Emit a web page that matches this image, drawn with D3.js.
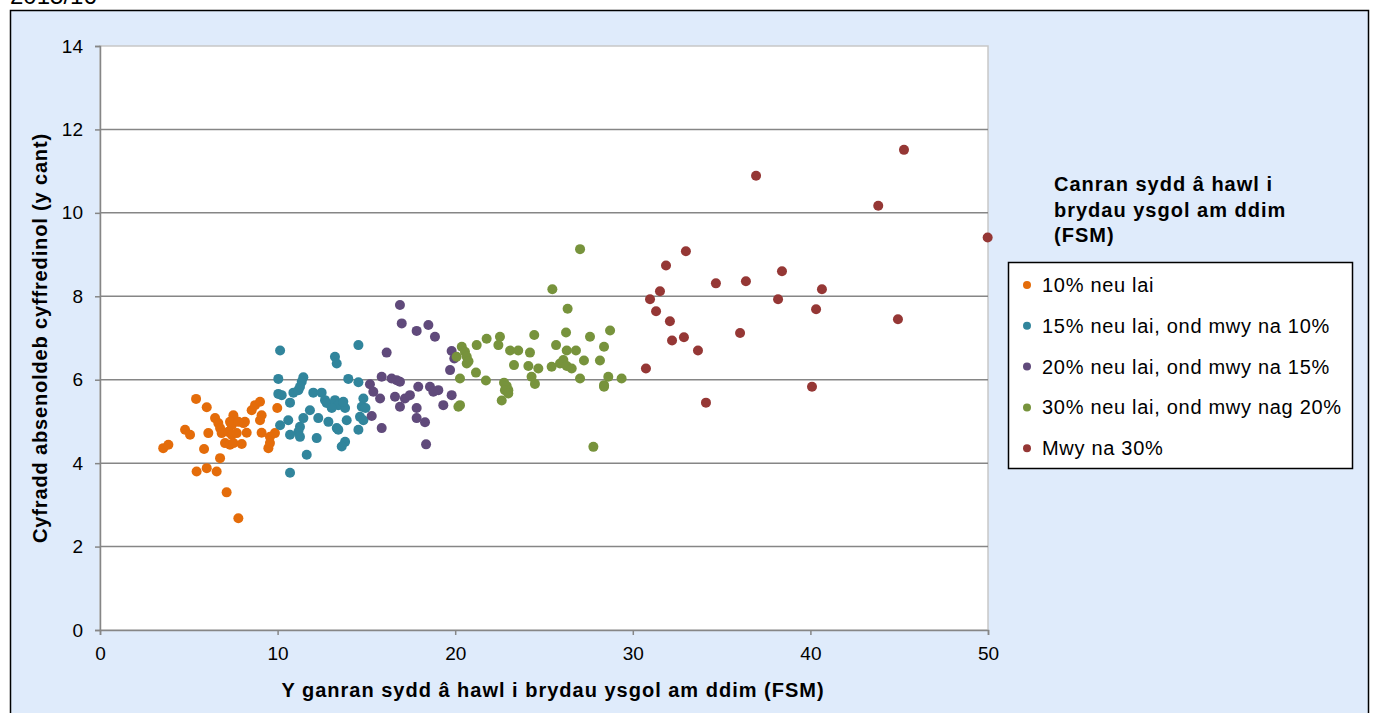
<!DOCTYPE html>
<html>
<head>
<meta charset="utf-8">
<script src="https://cdn.jsdelivr.net/npm/d3@7"></script>
<style>
  body { margin: 0; background: #fff; font-family: "Liberation Sans", Arial, sans-serif; }
  svg text { font-family: "Liberation Sans", Arial, sans-serif; }
</style>
</head>
<body>
<svg id="chart"></svg>
<script>
// legend entries, in draw order
const categories = [
  "10% neu lai",
  "15% neu lai, ond mwy na 10%",
  "20% neu lai, ond mwy na 15%",
  "30% neu lai, ond mwy nag 20%",
  "Mwy na 30%"
];

// [FSM %, absence %]
const fsm10 = [
  [3.56,4.36],[3.85,4.44],[4.79,4.80],[5.07,4.68],[5.41,5.54],[6.01,5.34],[6.10,4.72],[5.86,4.34],
  [6.48,5.08],[6.66,4.96],[6.76,4.84],[6.85,4.72],[7.51,5.15],[7.60,5.03],[7.32,4.99],[7.42,4.91],
  [8.16,4.99],[8.07,4.96],[7.22,4.75],[7.42,4.68],[7.70,4.72],[8.26,4.73],[7.04,4.48],[7.32,4.44],
  [7.51,4.48],[7.98,4.46],[6.76,4.12],[8.54,5.27],[8.73,5.39],[9.01,5.47],[9.10,5.15],[9.01,5.03],
  [9.10,4.73],[9.57,4.63],[9.85,4.72],[9.48,4.36],[9.57,4.48],[9.98,5.32],[5.44,3.80],[6.01,3.88],
  [6.57,3.80],[7.13,3.30],[7.79,2.68],[7.79,4.99]
];
const fsm15 = [
  [10.14,6.70],[14.55,6.83],[13.23,6.55],[13.33,6.39],[10.04,6.02],[11.45,6.06],[11.36,5.95],[13.98,6.02],
  [14.55,5.94],[10.04,5.66],[10.23,5.63],[10.89,5.69],[11.17,5.75],[11.26,5.83],[10.70,5.45],[12.01,5.69],
  [12.48,5.69],[12.67,5.51],[12.76,5.44],[13.23,5.51],[13.42,5.39],[13.80,5.32],[13.70,5.47],[13.05,5.32],
  [11.82,5.27],[11.45,5.08],[10.60,5.03],[10.14,4.91],[14.83,5.55],[14.74,5.35],[14.95,5.32],[12.29,5.08],
  [12.86,4.99],[13.33,4.84],[13.42,4.80],[13.89,5.03],[14.64,5.11],[14.83,5.03],[14.55,4.80],[11.26,4.87],
  [11.17,4.75],[10.70,4.68],[11.26,4.63],[12.20,4.60],[13.80,4.51],[13.61,4.40],[11.64,4.20],[10.70,3.77]
];
const fsm20 = [
  [16.89,7.79],[16.99,7.35],[17.83,7.17],[18.49,7.31],[18.86,7.03],[16.14,6.65],[19.80,6.69],[19.95,6.51],
  [19.71,6.23],[15.86,6.07],[16.42,6.03],[16.70,5.99],[16.89,5.95],[15.20,5.89],[15.39,5.71],[15.77,5.55],
  [17.92,5.83],[18.58,5.83],[18.77,5.71],[19.05,5.75],[16.61,5.59],[17.17,5.55],[17.45,5.63],[16.89,5.35],
  [17.83,5.32],[19.33,5.39],[19.80,5.63],[15.30,5.13],[17.83,5.08],[18.30,4.98],[15.86,4.84],[18.36,4.45]
];
const fsm30 = [
  [27.03,9.13],[25.47,8.17],[26.33,7.70],[28.72,7.18],[26.24,7.13],[27.59,7.03],[24.45,7.07],[22.52,7.03],
  [22.43,6.83],[21.77,6.98],[21.21,6.83],[20.37,6.79],[20.55,6.67],[20.65,6.55],[20.08,6.55],[20.65,6.39],
  [23.09,6.70],[23.55,6.70],[24.21,6.65],[25.68,6.83],[28.38,6.79],[26.28,6.70],[26.80,6.70],[23.31,6.35],
  [24.12,6.33],[24.68,6.27],[25.43,6.31],[25.90,6.39],[26.09,6.47],[26.28,6.33],[26.56,6.27],[27.25,6.46],
  [28.15,6.46],[21.17,6.17],[20.27,6.03],[21.73,5.98],[24.30,6.07],[24.49,5.90],[27.03,6.03],[28.62,6.07],
  [28.38,5.87],[28.38,5.83],[29.37,6.03],[22.75,5.93],[22.90,5.85],[22.99,5.75],[22.80,5.75],[22.99,5.67],
  [22.62,5.50],[20.27,5.39],[20.18,5.35],[27.78,4.39],[20.75,6.44]
];
const fsmOver30 = [
  [45.27,11.51],[36.94,10.89],[43.82,10.17],[49.98,9.41],[32.99,9.08],[31.87,8.74],[38.40,8.60],[34.68,8.31],
  [36.37,8.36],[40.65,8.17],[31.53,8.12],[30.97,7.93],[38.18,7.93],[31.31,7.64],[40.32,7.69],[44.93,7.45],
  [32.09,7.40],[36.04,7.12],[32.21,6.94],[32.88,7.02],[33.67,6.70],[30.74,6.27],[40.09,5.83],[34.12,5.45]
];

const xTicks = [0, 10, 20, 30, 40, 50];
const yTicks = [0, 2, 4, 6, 8, 10, 12, 14];

const seriesData = [fsm10, fsm15, fsm20, fsm30, fsmOver30];
const colors = ["#e46c0a", "#31859c", "#604a7b", "#77933c", "#953735"];

const W = 1376, H = 713;
const plot = { left: 100, right: 988, top: 46, bottom: 630 };

const svg = d3.select("#chart").attr("width", W).attr("height", H);

// outer chart panel
svg.append("rect")
  .attr("x", 10.5).attr("y", 10.5)
  .attr("width", 1358).attr("height", 720)
  .attr("fill", "#dfebfb")
  .attr("stroke", "#000").attr("stroke-width", 1.5);

// heading above the panel, cut off by the page top
svg.append("text")
  .attr("x", 10).attr("y", 4)
  .attr("font-size", 24)
  .attr("fill", "#000")
  .text("2015/16");

const x = d3.scaleLinear().domain([0, 50]).range([plot.left, plot.right]);
const y = d3.scaleLinear().domain([0, 14]).range([plot.bottom, plot.top]);

svg.append("rect")
  .attr("x", plot.left).attr("y", plot.top)
  .attr("width", plot.right - plot.left).attr("height", plot.bottom - plot.top)
  .attr("fill", "#fff")
  .attr("stroke", "#c8c8c8").attr("stroke-width", 1.5);

// gridlines
svg.append("g")
  .selectAll("line")
  .data(yTicks.filter(d => d > 0 && d < 14))
  .join("line")
  .attr("x1", plot.left).attr("x2", plot.right)
  .attr("y1", d => y(d)).attr("y2", d => y(d))
  .attr("stroke", "#868686").attr("stroke-width", 1.5);

// axes
const yAxis = svg.append("g")
  .attr("transform", `translate(${plot.left},0)`)
  .call(d3.axisLeft(y).tickValues(yTicks).tickSize(5).tickPadding(12));
const xAxis = svg.append("g")
  .attr("transform", `translate(0,${plot.bottom})`)
  .call(d3.axisBottom(x).tickValues(xTicks).tickSize(5).tickPadding(12));

[yAxis, xAxis].forEach(a => {
  a.select(".domain").attr("stroke", "#868686").attr("stroke-width", 1.5);
  a.selectAll(".tick line").attr("stroke", "#868686").attr("stroke-width", 1.5);
  a.selectAll("text").attr("font-size", 19).attr("fill", "#000")
    .attr("font-family", "'Liberation Sans', Arial, sans-serif");
});

// axis titles
svg.append("text")
  .attr("x", (plot.left + plot.right) / 2 + 9).attr("y", 697)
  .attr("text-anchor", "middle")
  .attr("font-size", 20).attr("font-weight", "bold")
  .attr("letter-spacing", 1)
  .text("Y ganran sydd â hawl i brydau ysgol am ddim (FSM)");

svg.append("text")
  .attr("transform", `translate(47,${(plot.top + plot.bottom) / 2}) rotate(-90)`)
  .attr("text-anchor", "middle")
  .attr("font-size", 20).attr("font-weight", "bold")
  .attr("letter-spacing", 0.85)
  .text("Cyfradd absenoldeb cyffredinol (y cant)");

// points
seriesData.forEach((pts, i) => {
  svg.append("g")
    .selectAll("circle")
    .data(pts)
    .join("circle")
    .attr("cx", d => x(d[0]))
    .attr("cy", d => y(d[1]))
    .attr("r", 5)
    .attr("fill", colors[i]);
});

// legend
const legendTitle = ["Canran sydd â hawl i", "brydau ysgol am ddim", "(FSM)"];
svg.append("g")
  .selectAll("text")
  .data(legendTitle)
  .join("text")
  .attr("x", 1054)
  .attr("y", (d, i) => 191 + i * 25.5)
  .attr("font-size", 20).attr("font-weight", "bold")
  .attr("letter-spacing", 1)
  .text(d => d);

svg.append("rect")
  .attr("x", 1008.5).attr("y", 262.5)
  .attr("width", 344).attr("height", 206)
  .attr("fill", "#fff")
  .attr("stroke", "#000").attr("stroke-width", 1.5);

const item = svg.append("g")
  .selectAll("g")
  .data(categories)
  .join("g")
  .attr("transform", (d, i) => `translate(1027,${285 + i * 40.8})`);
item.append("circle").attr("r", 4).attr("fill", (d, i) => colors[i]);
item.append("text")
  .attr("x", 15).attr("dy", "0.35em")
  .attr("font-size", 20)
  .attr("letter-spacing", 0.7)
  .text(d => d);
</script>
</body>
</html>
